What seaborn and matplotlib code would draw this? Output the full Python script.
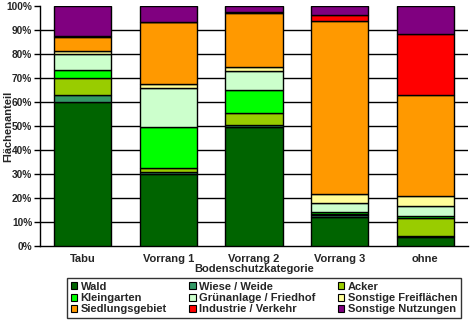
import matplotlib
matplotlib.use("Agg")
import matplotlib.pyplot as plt
import matplotlib.patches as mpatches
from matplotlib.ticker import PercentFormatter
import numpy as np
import pandas as pd
import seaborn as sns

categories = ["Tabu", "Vorrang 1", "Vorrang 2", "Vorrang 3", "ohne"]

nutzungen = ["Wald", "Wiese / Weide", "Acker", "Kleingarten",
             "Grünanlage / Friedhof", "Sonstige Freiflächen",
             "Siedlungsgebiet", "Industrie / Verkehr", "Sonstige Nutzungen"]

wald = [59.8, 30.0, 49.6, 12.0, 3.6]
wiese = [3.1, 0.8, 0.8, 0.8, 0.5]
acker = [7.1, 1.8, 4.9, 0.7, 7.4]
kleingarten = [3.3, 16.9, 9.7, 0.6, 0.9]
gruenanlage = [6.7, 16.2, 8.0, 3.8, 4.4]
freiflaechen = [1.4, 1.6, 1.6, 3.7, 4.0]
siedlung = [5.8, 25.9, 22.3, 72.0, 42.1]
industrie = [0.5, 0.3, 0.4, 2.5, 25.6]
sonstige = [12.3, 6.5, 2.7, 3.9, 11.5]

colors = ["#006400", "#339966", "#99CC00", "#00FF00", "#CCFFCC",
          "#FFFF99", "#FF9900", "#FF0000", "#800080"]

series = [wald, wiese, acker, kleingarten, gruenanlage,
          freiflaechen, siedlung, industrie, sonstige]

df = pd.DataFrame({name: vals for name, vals in zip(nutzungen, series)})
df.insert(0, "Kategorie", categories)

sns.set_style("white")
plt.rcParams["font.family"] = ["Liberation Sans", "DejaVu Sans"]
plt.rcParams["font.weight"] = "bold"
FS = 8

fig = plt.figure(figsize=(4.7, 3.25), dpi=100)
ax = fig.add_axes([40 / 470, 1 - 246 / 325, 428 / 470, 240 / 325])

bottom = np.zeros(len(categories))
for name, col in zip(nutzungen, colors):
    sns.barplot(data=df, x="Kategorie", y=name, color=col, bottom=bottom,
                width=0.67, edgecolor="black", linewidth=1.0,
                saturation=1, ax=ax, zorder=3)
    bottom = bottom + df[name].to_numpy()

ax.set_ylim(0, 100)
ax.set_xlim(-0.5, len(categories) - 0.5)
ax.set_yticks(np.arange(0, 101, 10))
ax.yaxis.set_major_formatter(PercentFormatter(decimals=0))
for yv in range(10, 100, 10):
    ax.axhline(yv, color="black", linewidth=1.0, zorder=1)

ax.set_xticks(np.arange(len(categories)))
ax.set_xticklabels(categories)
ax.set_xticks(np.arange(-0.5, len(categories) + 0.5, 1), minor=True)
ax.tick_params(axis="x", which="major", length=0, pad=6, labelsize=FS)
ax.tick_params(axis="x", which="minor", length=4, width=1, color="black",
               direction="out")
ax.tick_params(axis="y", length=4, width=1, color="black", direction="out",
               labelsize=7.3, pad=1.5, left=True)
for lbl in ax.get_xticklabels() + ax.get_yticklabels():
    lbl.set_fontweight("bold")

for side in ["top", "right"]:
    ax.spines[side].set_visible(False)
for side in ["left", "bottom"]:
    ax.spines[side].set_color("black")
    ax.spines[side].set_linewidth(1.0)

ax.set_ylabel("Flächenanteil", fontsize=FS, fontweight="bold")
ax.yaxis.set_label_coords(-27 / 428, 0.5)
ax.set_xlabel("Bodenschutzkategorie", fontsize=FS, fontweight="bold",
              labelpad=0)

handles = [mpatches.Patch(facecolor=c, edgecolor="black", linewidth=0.8,
                          label=n) for n, c in zip(nutzungen, colors)]
order = [0, 3, 6, 1, 4, 7, 2, 5, 8]
leg = fig.legend([handles[i] for i in order],
                 [nutzungen[i] for i in order],
                 ncol=3, loc="center", bbox_to_anchor=(264 / 470, 1 - 298 / 325),
                 frameon=True, fancybox=False, edgecolor="black",
                 prop={"weight": "bold", "size": FS},
                 handlelength=0.6, handleheight=0.6, handletextpad=0.3,
                 columnspacing=2.0, labelspacing=0.12, borderpad=0.3)
leg.get_frame().set_linewidth(1.0)

fig.savefig("out.png", dpi=100)
